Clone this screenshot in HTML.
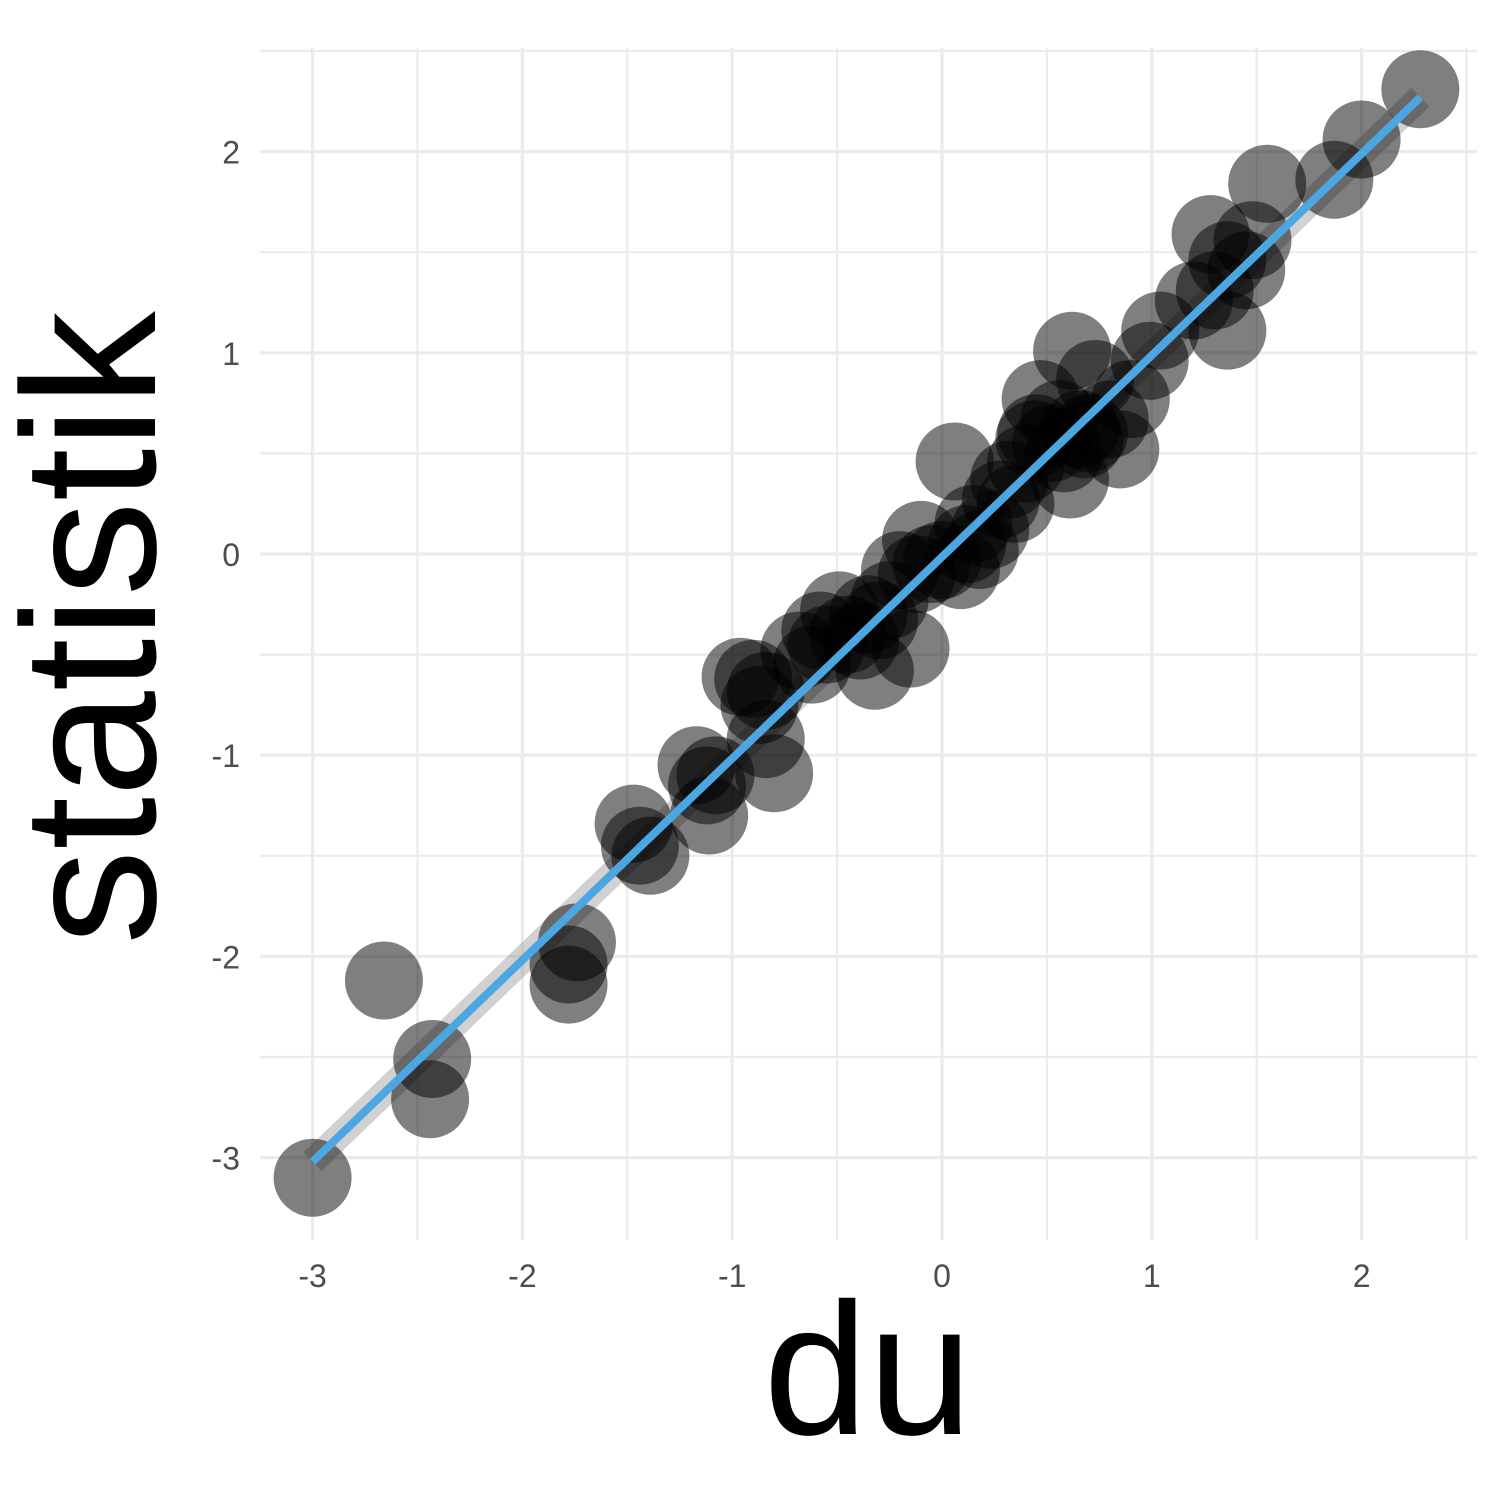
<!DOCTYPE html>
<html><head><meta charset="utf-8"><style>
html,body{margin:0;padding:0;background:#fff;}
svg{display:block;font-family:"Liberation Sans",Arial,sans-serif;}
</style></head><body>
<svg id="chart" width="1500" height="1500" viewBox="0 0 1500 1500">
<g id="grid"></g>
<g id="ribbon"></g>
<g id="points"></g>
<g id="fit"></g>
<g id="xticks"></g>
<g id="yticks"></g>
<text x="868" y="1434" font-size="188" text-anchor="middle" fill="#000">du</text>
<text transform="translate(155,628) rotate(-90)" font-size="190" text-anchor="middle" fill="#000">statistik</text>
</svg>
<script>
const xVals=[-3.0,-2.66,-2.43,-2.44,-1.74,-1.78,-1.78,-1.47,-1.39,-1.44,-1.17,-1.11,-1.08,-0.96,-0.84,-0.80,-0.84,-0.87,-0.68,-0.58,-0.49,-0.39,-0.32,-0.15,-0.30,-0.25,-0.20,-0.10,0.0,0.06,0.09,0.18,0.23,0.28,0.32,0.44,0.47,0.56,0.62,0.61,0.68,0.73,0.80,0.85,0.90,0.99,1.04,1.20,1.30,1.36,1.28,1.36,1.45,1.48,1.55,1.87,2.0,2.28,-0.62,-0.45,-0.05,0.12,0.40,0.52,0.66,-0.9,-0.12,0.35,0.58,0.70,-0.55,-0.35,0.15,0.45,-1.12];
const yVals=[-3.1,-2.12,-2.51,-2.71,-1.93,-2.14,-2.04,-1.34,-1.50,-1.45,-1.05,-1.30,-1.10,-0.61,-0.68,-1.09,-0.92,-0.75,-0.48,-0.38,-0.28,-0.43,-0.58,-0.47,-0.33,-0.23,-0.08,0.07,-0.03,0.46,-0.08,0.02,0.12,0.27,0.37,0.57,0.77,0.67,1.01,0.37,0.57,0.87,0.67,0.52,0.77,0.96,1.11,1.26,1.31,1.11,1.59,1.46,1.41,1.56,1.84,1.86,2.06,2.31,-0.55,-0.40,-0.05,0.05,0.45,0.55,0.62,-0.62,-0.1,0.25,0.50,0.60,-0.45,-0.30,0.15,0.60,-1.15];
const xTicks=[-3,-2,-1,0,1,2];
const yTicks=[-3,-2,-1,0,1,2];
const fitX=[-3.0,2.28];
const fitY=[-3.02,2.27];
const X=v=>942+v*209.8, Y=v=>554-v*201.2;
const NS="http://www.w3.org/2000/svg";
function mk(parent,tag,attrs){const e=document.createElementNS(NS,tag);for(const k in attrs)e.setAttribute(k,attrs[k]);document.getElementById(parent).appendChild(e);return e;}
const L=260,R=1477,T=48,B=1240;
for(let v=-3;v<=2.51;v+=0.5){const major=Number.isInteger(v);
 const e=mk('grid','line',{x1:X(v),x2:X(v),y1:T,y2:B,stroke:'#ebebeb','stroke-width':major?3.2:2.2});
 
 }
for(let v=-3;v<=2.51;v+=0.5){const major=Number.isInteger(v);
 const e=mk('grid','line',{x1:L,x2:R,y1:Y(v),y2:Y(v),stroke:'#ebebeb','stroke-width':major?3.2:2.2});
 
 }
const rb=mk('ribbon','line',{x1:X(fitX[0]),y1:Y(fitY[0]),x2:X(fitX[1]),y2:Y(fitY[1]),stroke:'#999','stroke-opacity':0.45,'stroke-width':26});


for(let i=0;i<xVals.length;i++){const c=mk('points','circle',{cx:X(xVals[i]),cy:Y(yVals[i]),r:39,fill:'#000','fill-opacity':0.5});
 
 }
const fl=mk('fit','line',{x1:X(fitX[0]),y1:Y(fitY[0]),x2:X(fitX[1]),y2:Y(fitY[1]),stroke:'#4ba6e2','stroke-width':8});


xTicks.forEach(v=>{const t=mk('xticks','text',{x:X(v),y:1287,'font-size':32,fill:'#4d4d4d','text-anchor':'middle'});t.textContent=String(v);
 
 });
yTicks.forEach(v=>{const t=mk('yticks','text',{x:240,y:Y(v)+12,'font-size':32,fill:'#4d4d4d','text-anchor':'end'});t.textContent=String(v);
 
 });
</script>
</body></html>
